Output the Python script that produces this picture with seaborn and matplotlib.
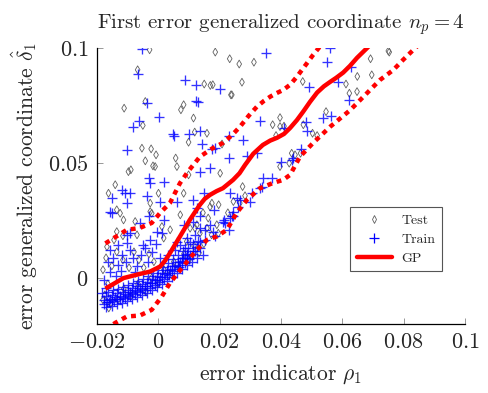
import matplotlib
matplotlib.use("Agg")
import matplotlib.pyplot as plt
from matplotlib.lines import Line2D
import seaborn as sns
import pandas as pd

# ---------------- data ----------------
gp_x = [-0.0172, -0.0113, -0.0060, -0.0027, 0.0006, 0.0022, 0.0038, 0.0071, 0.0103, 0.0136,
        0.0152, 0.0169, 0.0190, 0.0211, 0.0244, 0.0265, 0.0283, 0.0310, 0.0341, 0.0365,
        0.0387, 0.0410, 0.0430, 0.0452, 0.0472, 0.0495, 0.0518, 0.0540, 0.0560, 0.0580,
        0.0603, 0.0625, 0.0648, 0.0681, 0.0720]
gp_mean = [-0.0047, -0.0001, 0.0017, 0.0027, 0.0049, 0.0074, 0.0107, 0.0180, 0.0252, 0.0318,
           0.0344, 0.0361, 0.0377, 0.0390, 0.0426, 0.0455, 0.0491, 0.0540, 0.0578, 0.0597,
           0.0609, 0.0626, 0.0652, 0.0686, 0.0722, 0.0766, 0.0806, 0.0833, 0.0852, 0.0870,
           0.0893, 0.0922, 0.0957, 0.1000, 0.1055]

gp_up_x = [-0.0172, -0.0102, -0.0060, -0.0021, 0.0006, 0.0038, 0.0071, 0.0097, 0.0136,
           0.0175, 0.0211, 0.0240, 0.0267, 0.0295, 0.0322, 0.0345, 0.0365, 0.0385, 0.0407,
           0.0430, 0.0452, 0.0480, 0.0505, 0.0527, 0.0560]
gp_up = [0.0150, 0.0209, 0.0217, 0.0239, 0.0282, 0.0325, 0.0412, 0.0462, 0.0527,
         0.0562, 0.0587, 0.0620, 0.0658, 0.0705, 0.0745, 0.0770, 0.0788, 0.0803, 0.0817,
         0.0840, 0.0875, 0.0925, 0.0970, 0.1006, 0.1050]

gp_lo_x = [-0.0172, -0.0140, -0.0102, -0.0060, -0.0021, 0.0012, 0.0038, 0.0081, 0.0126,
           0.0159, 0.0191, 0.0224, 0.0256, 0.0289, 0.0332, 0.0375, 0.0407, 0.0430,
           0.0462, 0.0505, 0.0561, 0.0626, 0.0680, 0.0723, 0.0766, 0.0798, 0.0831, 0.0870]
gp_lo = [-0.0225, -0.0196, -0.0168, -0.0164, -0.0139, -0.0081, -0.0023, 0.0049, 0.0122,
         0.0165, 0.0180, 0.0209, 0.0283, 0.0339, 0.0390, 0.0413, 0.0426, 0.0448,
         0.0527, 0.0587, 0.0658, 0.0730, 0.0803, 0.0861, 0.0904, 0.0948, 0.0991, 0.1040]

# Train samples: scattered part
train_scattered = [
    (-0.0053, 0.0996), (-0.0067, 0.0886), (0.0088, 0.0861), (0.0124, 0.0837), (0.0200, 0.0822),
    (0.0123, 0.0770), (0.0129, 0.0764), (-0.0035, 0.0760), (0.0002, 0.0700), (-0.0064, 0.0683),
    (-0.0082, 0.0658), (0.0048, 0.0625), (0.0050, 0.0616), (0.0099, 0.0625), (0.0137, 0.0639),
    (0.0230, 0.0619), (-0.0102, 0.0558), (0.0142, 0.0584), (0.0175, 0.0561), (0.0186, 0.0564),
    (0.0230, 0.0523), (0.0560, 0.0999), (0.0350, 0.0977), (0.0551, 0.0938), (0.0627, 0.0915),
    (0.0493, 0.0832), (0.0587, 0.0851), (0.0623, 0.0774), (0.0332, 0.0683), (0.0536, 0.0697),
    (0.0562, 0.0703), (0.0482, 0.0680), (0.0484, 0.0639), (0.0410, 0.0651), (0.0277, 0.0600),
    (0.0465, 0.0560), (0.0440, 0.0521), (0.0435, 0.0513), (0.0399, 0.0506), (0.0288, 0.0528),
    (0.0321, 0.0542), (0.0341, 0.0435), (0.0371, 0.0435), (0.0332, 0.0390), (0.0337, 0.0397),
    (0.0305, 0.0368), (0.0299, 0.0332), (0.0266, 0.0339), (0.0256, 0.0347), (0.0261, 0.0310),
    (0.0245, 0.0288), (0.0239, 0.0267), (0.0234, 0.0368),
    (0.0137, 0.0462), (0.0170, 0.0477), (0.0018, 0.0419), (-0.0026, 0.0412), (-0.0031, 0.0434),
    (-0.0091, 0.0368), (-0.0108, 0.0368), (-0.0118, 0.0383), (-0.0151, 0.0347), (-0.0037, 0.0354),
    (-0.0102, 0.0325), (0.0007, 0.0332), (0.0061, 0.0332), (0.0115, 0.0339), (0.0148, 0.0368),
    (0.0126, 0.0303), (0.0181, 0.0296), (0.0213, 0.0252), (0.0218, 0.0238), (-0.0156, 0.0288),
    (-0.0151, 0.0281), (-0.0031, 0.0267), (0.0018, 0.0252), (-0.0059, 0.0238), (0.0083, 0.0231),
    (0.0137, 0.0267), (0.0230, 0.0209), (-0.0004, 0.0201), (0.0012, 0.0194), (-0.0091, 0.0194),
    (-0.0102, 0.0187), (0.0094, 0.0173), (0.0061, 0.0158), (-0.0026, 0.0165), (-0.0048, 0.0144),
    (0.0137, 0.0158), (0.0087, 0.0131), (0.0103, 0.0158), (0.0152, 0.0209), (0.0169, 0.0231),
    (0.0180, 0.0201), (0.0212, 0.0245), (0.0234, 0.0260), (0.0245, 0.0267), (0.0114, 0.0245),
    (0.0093, 0.0100), (0.0082, 0.0086),
]
# Train samples: dense band in the lower left
train_band = [
    (-0.0177, -0.0096), (-0.0157, -0.0091), (-0.0141, -0.0083), (-0.0125, -0.0078), (-0.0109, -0.0070),
    (-0.0092, -0.0061), (-0.0076, -0.0052), (-0.0060, -0.0044), (-0.0043, -0.0035), (-0.0027, -0.0022),
    (-0.0011, -0.0009), (0.0006, 0.0004), (0.0022, 0.0017), (0.0038, 0.0035), (0.0054, 0.0052),
    (0.0071, 0.0070), (0.0087, 0.0087), (0.0103, 0.0100), (0.0120, 0.0117), (0.0136, 0.0131),
    (-0.0170, -0.0126), (-0.0151, -0.0122), (-0.0134, -0.0113), (-0.0118, -0.0109), (-0.0102, -0.0100),
    (-0.0086, -0.0091), (-0.0069, -0.0083), (-0.0053, -0.0074), (-0.0037, -0.0065), (-0.0021, -0.0052),
    (-0.0004, -0.0039), (0.0012, -0.0026), (0.0028, -0.0013), (0.0045, 0.0004), (0.0061, 0.0022),
    (0.0077, 0.0039), (0.0094, 0.0057), (0.0110, 0.0070), (0.0126, 0.0087), (0.0146, 0.0100),
    (-0.0184, -0.0065), (-0.0164, -0.0061), (-0.0148, -0.0052), (-0.0131, -0.0048), (-0.0115, -0.0039),
    (-0.0099, -0.0030), (-0.0082, -0.0022), (-0.0066, -0.0013), (-0.0050, -0.0004), (-0.0034, 0.0009),
    (-0.0017, 0.0022), (-0.0001, 0.0035), (0.0015, 0.0048), (0.0032, 0.0065), (0.0048, 0.0083),
    (0.0064, 0.0100), (0.0081, 0.0117), (0.0097, 0.0131), (0.0113, 0.0148), (0.0129, 0.0161),
    (-0.0169, -0.0080), (-0.0149, -0.0076), (-0.0133, -0.0067), (-0.0116, -0.0063), (-0.0100, -0.0054),
    (-0.0084, -0.0046), (-0.0068, -0.0037), (-0.0052, -0.0028), (-0.0035, -0.0020), (-0.0019, -0.0007),
    (-0.0003, 0.0007), (0.0014, 0.0020), (0.0030, 0.0033), (0.0046, 0.0050), (0.0063, 0.0067),
    (0.0079, 0.0085), (0.0095, 0.0102), (0.0112, 0.0115), (0.0128, 0.0133),
    (-0.0166, -0.0107), (-0.0149, -0.0098), (-0.0133, -0.0094), (-0.0116, -0.0085), (-0.0100, -0.0076),
    (-0.0084, -0.0067), (-0.0068, -0.0059), (-0.0052, -0.0050), (-0.0035, -0.0037), (-0.0019, -0.0024),
    (-0.0003, -0.0011), (0.0014, 0.0002), (0.0030, 0.0020), (0.0046, 0.0037), (0.0063, 0.0054),
    (0.0079, 0.0072), (0.0095, 0.0085), (0.0112, 0.0102),
    (-0.0175, -0.0112), (-0.0160, -0.0104), (-0.0143, -0.0101), (-0.0126, -0.0092), (-0.0108, -0.0088),
    (-0.0092, -0.0081), (-0.0076, -0.0070), (-0.0060, -0.0063), (-0.0044, -0.0052), (-0.0028, -0.0044),
    (-0.0012, -0.0030), (0.0004, -0.0016), (0.0020, -0.0004), (0.0036, 0.0011), (0.0053, 0.0030),
    (0.0069, 0.0046), (0.0086, 0.0063), (0.0102, 0.0080),
    (-0.0164, 0.0070), (-0.0148, 0.0087), (-0.0131, 0.0057), (-0.0118, 0.0100), (-0.0105, 0.0070),
    (-0.0092, 0.0122), (-0.0082, 0.0087), (-0.0069, 0.0052), (-0.0056, 0.0100), (-0.0043, 0.0131),
    (-0.0034, 0.0070), (-0.0021, 0.0113), (-0.0008, 0.0148), (0.0006, 0.0087), (-0.0157, 0.0026),
    (-0.0138, 0.0009), (-0.0121, 0.0030), (-0.0177, -0.0009), (-0.0170, -0.0044), (-0.0076, 0.0026),
    (-0.0131, 0.0144), (-0.0102, 0.0152), (-0.0157, 0.0122),
    (0.0032, 0.0100), (0.0054, 0.0122), (0.0071, 0.0144), (0.0120, 0.0187), (0.0152, 0.0165),
    (0.0136, 0.0218), (0.0185, 0.0183),
]

# Test samples
test_scattered = [
    (-0.0028, 0.0992), (0.0186, 0.0982), (0.0233, 0.0953), (-0.0067, 0.0905), (0.0150, 0.0843),
    (0.0170, 0.0837), (0.0178, 0.0840), (0.0237, 0.0796), (-0.0042, 0.0767), (-0.0111, 0.0738),
    (0.0083, 0.0753), (0.0074, 0.0731), (0.0115, 0.0695), (-0.0050, 0.0663), (0.0119, 0.0634),
    (0.0159, 0.0629), (0.0099, 0.0590), (-0.0053, 0.0564), (-0.0023, 0.0561), (-0.0007, 0.0535),
    (0.0057, 0.0521), (-0.0042, 0.0509), (0.0208, 0.0582),
    (0.0750, 0.0987), (0.0753, 0.0982), (0.0692, 0.0953), (0.0264, 0.0930), (0.0312, 0.0938),
    (0.0649, 0.0876), (0.0696, 0.0883), (0.0471, 0.0854), (0.0612, 0.0843), (0.0273, 0.0851),
    (0.0623, 0.0803), (0.0648, 0.0810), (0.0240, 0.0796), (0.0547, 0.0723), (0.0397, 0.0697),
    (0.0373, 0.0666), (0.0397, 0.0658), (0.0410, 0.0660), (0.0473, 0.0666), (0.0503, 0.0629),
    (0.0518, 0.0619), (0.0384, 0.0619), (0.0435, 0.0542), (0.0446, 0.0535), (0.0464, 0.0542),
    (0.0427, 0.0499), (0.0397, 0.0484), (0.0275, 0.0397), (0.0283, 0.0357), (0.0245, 0.0332),
    (0.0266, 0.0325),
    (-0.0010, 0.0484), (-0.0017, 0.0487), (-0.0097, 0.0462), (-0.0089, 0.0470), (0.0061, 0.0484),
    (0.0099, 0.0448), (0.0202, 0.0455), (-0.0140, 0.0405), (-0.0162, 0.0368), (0.0001, 0.0368),
    (0.0083, 0.0368), (-0.0026, 0.0325), (0.0175, 0.0325), (0.0197, 0.0318), (-0.0135, 0.0296),
    (-0.0124, 0.0281), (-0.0026, 0.0288), (-0.0021, 0.0281), (-0.0113, 0.0252), (-0.0075, 0.0245),
    (0.0012, 0.0223), (0.0039, 0.0209), (0.0072, 0.0274), (0.0104, 0.0216), (0.0126, 0.0231),
    (0.0159, 0.0216), (0.0191, 0.0231), (-0.0069, 0.0187), (0.0018, 0.0173), (-0.0135, 0.0201),
    (0.0120, 0.0216), (0.0136, 0.0194), (0.0174, 0.0187), (0.0196, 0.0194), (0.0093, 0.0158),
    (0.0163, 0.0260), (0.0146, 0.0283), (0.0169, 0.0309), (0.0227, 0.0283),
]
test_band = [
    (-0.0174, -0.0074), (-0.0154, -0.0109), (-0.0131, -0.0096), (-0.0112, -0.0048), (-0.0089, -0.0078),
    (-0.0066, -0.0026), (-0.0040, -0.0061), (-0.0021, 0.0000), (-0.0001, -0.0026), (0.0019, 0.0035),
    (0.0035, 0.0009), (0.0051, 0.0070), (0.0068, 0.0044), (0.0084, 0.0104), (0.0100, 0.0078),
    (0.0117, 0.0139), (0.0133, 0.0109), (0.0149, 0.0148),
    (-0.0170, 0.0087), (-0.0151, 0.0052), (-0.0135, 0.0113), (-0.0115, 0.0078), (-0.0095, 0.0044),
    (-0.0079, 0.0113), (-0.0063, 0.0078), (-0.0047, 0.0044), (-0.0030, 0.0104), (-0.0014, 0.0070),
    (-0.0167, 0.0135), (-0.0180, 0.0035), (-0.0144, 0.0165), (-0.0115, 0.0183), (-0.0164, -0.0026),
    (-0.0180, -0.0096), (-0.0161, -0.0131),
]

x_ticks = [-0.02, 0, 0.02, 0.04, 0.06, 0.08, 0.1]
x_tick_labels = [r"$-0.02$", r"$0$", r"$0.02$", r"$0.04$", r"$0.06$", r"$0.08$", r"$0.1$"]
y_ticks = [0, 0.05, 0.1]
y_tick_labels = [r"$0$", r"$0.05$", r"$0.1$"]

# ---------------- styling ----------------
sns.set_style("white")
plt.rcParams["font.family"] = ["cmr10", "DejaVu Serif"]
plt.rcParams["mathtext.fontset"] = "cm"
plt.rcParams["axes.unicode_minus"] = False

train_df = pd.DataFrame(train_scattered + train_band, columns=["rho", "delta"])
test_df = pd.DataFrame(test_scattered + test_band, columns=["rho", "delta"])
mean_df = pd.DataFrame({"rho": gp_x, "delta": gp_mean})
up_df = pd.DataFrame({"rho": gp_up_x, "delta": gp_up})
lo_df = pd.DataFrame({"rho": gp_lo_x, "delta": gp_lo})

fig = plt.figure(figsize=(4.89, 3.93), dpi=100)
ax = fig.add_axes([0.198, 0.176, 0.753, 0.702])

sns.scatterplot(data=test_df, x="rho", y="delta", ax=ax, marker="d", s=16,
                facecolor="none", edgecolor="#606060", linewidth=0.6, zorder=2)
sns.scatterplot(data=train_df, x="rho", y="delta", ax=ax, marker="+", s=48,
                color="#0000ff", alpha=0.8, linewidth=0.95, zorder=3)
sns.lineplot(data=mean_df, x="rho", y="delta", ax=ax, sort=False, estimator=None,
             color="red", linewidth=3.2, solid_joinstyle="round", solid_capstyle="butt", zorder=4)
sns.lineplot(data=up_df, x="rho", y="delta", ax=ax, sort=False, estimator=None,
             color="red", linewidth=3.2, linestyle=(0, (1.1, 1.1)), zorder=4)
sns.lineplot(data=lo_df, x="rho", y="delta", ax=ax, sort=False, estimator=None,
             color="red", linewidth=3.2, linestyle=(0, (1.1, 1.1)), zorder=4)

ax.set_xlim(-0.02, 0.1)
ax.set_ylim(-0.02, 0.1)
ax.set_xticks(x_ticks)
ax.set_xticklabels(x_tick_labels)
ax.set_yticks(y_ticks)
ax.set_yticklabels(y_tick_labels)
ax.tick_params(direction="in", length=4, width=0.6, color="#888888",
               labelsize=16, pad=6, bottom=True, left=True)

for side in ["top", "right"]:
    ax.spines[side].set_visible(False)
for side in ["left", "bottom"]:
    ax.spines[side].set_color("black")
    ax.spines[side].set_linewidth(0.9)

ax.set_title(r"First error generalized coordinate $n_p = 4$", fontsize=15, pad=14)
ax.set_xlabel(r"error indicator $\rho_1$", fontsize=15.5, labelpad=8)
ax.set_ylabel(r"error generalized coordinate $\hat{\delta}_1$", fontsize=15.5, labelpad=6)

handles = [
    Line2D([], [], linestyle="none", marker="d", markersize=4, markerfacecolor="none",
           markeredgecolor="#606060", markeredgewidth=0.6),
    Line2D([], [], linestyle="none", marker="+", markersize=7, color="#0000ff",
           markeredgewidth=0.9),
    Line2D([], [], color="red", linewidth=3.2),
]
leg = ax.legend(handles, ["Test", "Train", "GP"], loc="upper right",
                bbox_to_anchor=(0.957, 0.449), fontsize=10, frameon=True,
                fancybox=False, edgecolor="#555555", framealpha=1,
                handlelength=2.5, borderpad=0.5, labelspacing=0.45, handletextpad=0.7)
leg.get_frame().set_linewidth(0.8)

fig.savefig("out.png", dpi=100)
